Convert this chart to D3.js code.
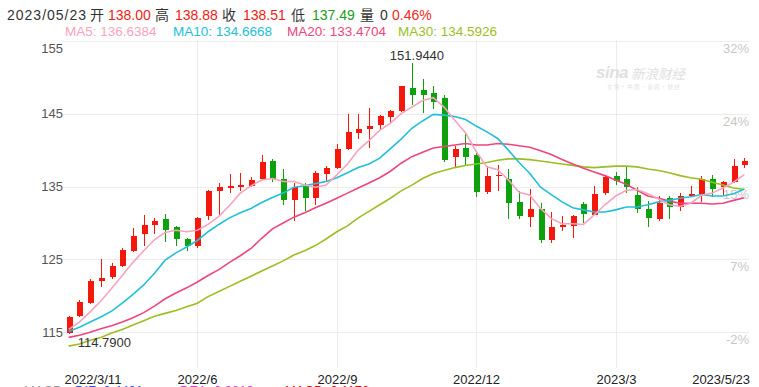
<!DOCTYPE html>
<html>
<head>
<meta charset="utf-8">
<script src="https://cdn.jsdelivr.net/npm/d3@7"></script>
<style>
  body { margin: 0; background: #fff; }
  svg { display: block; font-family: 'Liberation Sans', Arial, 'Noto Sans CJK SC', sans-serif; }
</style>
</head>
<body>
<div id="chart"></div>
<script>
// weekly candles, 2022/3/11 .. 2023/5/23
const openP = [114.9, 117.25, 119.06, 122.1, 122.6, 124.1, 126.2, 128.5, 129.7, 130.6,
  129.4, 127.8, 126.8, 130.9, 134.4, 134.95, 135.1, 135.1, 136.0, 138.5,
  136.1, 133.1, 135.05, 133.4, 136.7, 137.5, 140.1, 142.4, 142.85, 143.45,
  144.5, 145.3, 148.5, 148.25, 147.9, 147.2, 139.1, 140.25, 139.3, 134.2,
  136.45, 136.0, 132.9, 130.85, 131.9, 127.65, 129.45, 129.6, 132.6, 131.15,
  134.05, 136.45, 136.0, 133.9, 131.9, 130.55, 133.4, 132.15, 133.75, 133.95,
  136.1, 134.9, 135.65, 138.0];
const highP = [117.3, 119.4, 122.3, 125.0, 124.5, 126.6, 129.3, 131.1, 130.7, 131.2,
  129.6, 127.9, 130.8, 134.5, 135.5, 136.7, 136.9, 136.3, 139.3, 138.8,
  137.4, 135.45, 135.45, 137.2, 137.8, 140.8, 145.0, 145.0, 145.8, 144.85,
  145.5, 148.85, 151.944, 149.7, 148.8, 147.5, 140.55, 142.2, 139.85, 137.8,
  138.0, 137.4, 134.4, 134.6, 132.8, 131.55, 131.0, 131.1, 132.85, 135.05,
  136.6, 137.0, 137.7, 135.0, 132.95, 133.7, 133.7, 134.05, 135.05, 136.45,
  136.6, 135.8, 138.75, 138.88];
const lowP = [114.79, 117.1, 118.9, 121.2, 122.3, 123.9, 126.05, 126.8, 128.5, 127.4,
  126.9, 126.2, 126.6, 130.4, 130.9, 134.15, 134.4, 134.9, 135.9, 135.6,
  132.5, 130.3, 131.6, 132.5, 135.8, 137.4, 140.0, 141.5, 140.3, 142.9,
  143.7, 145.2, 146.2, 145.05, 145.6, 138.4, 137.7, 138.0, 133.6, 134.0,
  134.4, 130.5, 130.6, 129.4, 127.3, 127.2, 128.95, 128.0, 130.0, 131.1,
  133.8, 135.2, 134.05, 131.4, 129.5, 130.3, 130.55, 131.7, 133.6, 132.9,
  133.5, 133.85, 135.5, 137.49];
const closeP = [117.1, 119.2, 122.0, 122.5, 124.1, 126.3, 128.2, 129.7, 130.3, 129.1,
  127.75, 126.9, 130.7, 134.4, 134.9, 135.05, 135.2, 135.9, 138.4, 136.1,
  133.1, 134.9, 133.4, 136.8, 137.6, 140.1, 142.5, 142.85, 143.3, 144.7,
  145.3, 148.8, 147.6, 147.6, 146.65, 138.6, 140.1, 139.1, 134.3, 136.5,
  136.6, 132.8, 131.0, 131.9, 127.65, 129.4, 129.7, 130.95, 131.3, 133.95,
  136.35, 135.8, 135.0, 131.9, 130.75, 132.8, 132.15, 133.75, 133.95, 136.1,
  134.65, 135.65, 137.85, 138.51];

// moving averages
const ma5 = [115.4, 116.4, 117.8, 119.3, 121.0, 122.8, 124.6, 126.2, 127.7, 128.7,
  129.0, 128.8, 129.0, 129.8, 130.9, 132.4, 134.1, 135.1, 135.9, 136.1,
  135.7, 135.7, 135.2, 134.9, 135.2, 136.6, 138.1, 140.0, 141.3, 142.7,
  143.7, 145.0, 145.9, 146.8, 147.2, 145.9, 144.1, 142.4, 139.8, 137.7,
  137.3, 135.9, 134.2, 133.8, 132.0, 130.6, 129.9, 129.9, 129.8, 131.1,
  132.5, 133.7, 134.5, 134.6, 134.0, 133.3, 132.5, 132.3, 132.7, 133.8,
  134.1, 134.8, 135.6, 136.64];
const ma10 = [115.1, 115.7, 116.4, 117.1, 117.9, 119.0, 120.2, 121.5, 123.1, 124.9,
  125.9, 126.7, 127.6, 128.8, 129.8, 130.7, 131.4, 132.0, 132.8, 133.5,
  134.1, 134.9, 135.1, 135.4, 135.7, 136.2, 136.9, 137.6, 138.1, 138.9,
  140.2, 141.5, 143.0, 144.0, 144.9, 144.8, 144.6, 144.2, 143.3, 142.5,
  141.6, 140.0, 138.3, 136.8, 134.9, 133.9, 132.9, 132.1, 131.8, 131.5,
  131.5, 131.8, 132.2, 132.2, 132.5, 132.9, 133.1, 133.4, 133.6, 133.9,
  133.7, 133.7, 134.0, 134.67];
const ma20 = [114.3, 114.6, 115.0, 115.5, 115.9, 116.4, 117.0, 117.7, 118.6, 119.6,
  120.4, 121.1, 121.9, 122.8, 123.6, 124.6, 125.5, 126.5, 127.9, 129.2,
  130.0, 130.8, 131.4, 132.1, 132.7, 133.4, 134.1, 134.8, 135.5, 136.2,
  137.1, 138.2, 139.1, 139.7, 140.3, 140.5, 140.7, 140.9, 140.7, 140.7,
  140.9, 140.8, 140.6, 140.4, 139.9, 139.4, 138.7, 138.1, 137.5, 137.0,
  136.5, 135.9, 135.3, 134.5, 133.7, 133.4, 133.0, 132.7, 132.7, 132.7,
  132.6, 132.7, 133.1, 133.47];
const ma30 = [113.1, 113.4, 113.9, 114.3, 114.9, 115.4, 116.0, 116.6, 117.2, 117.6,
  118.0, 118.5, 119.0, 119.9, 120.6, 121.3, 122.0, 122.7, 123.4, 124.1,
  124.8, 125.6, 126.2, 126.9, 127.8, 128.8, 129.6, 130.7, 131.6, 132.5,
  133.4, 134.4, 135.2, 136.1, 136.8, 137.2, 137.6, 137.9, 138.1, 138.3,
  138.6, 138.8, 138.8, 138.7, 138.5, 138.3, 138.1, 137.9, 137.7, 137.6,
  137.7, 137.8, 137.8, 137.7, 137.4, 137.2, 136.9, 136.5, 136.2, 136.0,
  135.6, 135.2, 134.8, 134.59];

const priceTicks = [155, 145, 135, 125, 115];
const pctTicks = ['32%', '24%', '15%', '7%', '-2%'];
const monthTicks = [[12, '2022/6'], [25, '2022/9'], [38, '2022/12'], [51, '2023/3']];
const firstLabel = '2022/3/11';
const lastLabel = '2023/5/23';

const quoteDate = '2023/05/23';
const quote = [['开', '138.00'], ['高', '138.88'], ['收', '138.51'], ['低', '137.49'], ['量', '0']];
const quoteChg = '0.46%';
const maNames = ['MA5', 'MA10', 'MA20', 'MA30'];
const maLast = ['136.6384', '134.6668', '133.4704', '134.5926'];
const maxLabel = '151.9440';
const minLabel = '114.7900';

const draw = () => {
  const width = 759, height = 387;
  const n = closeP.length;
  const up = '#f4180c', down = '#0da20d';
  const maColors = ['#f8a3bd', '#22bfd9', '#ee457c', '#9bbf22'];

  const svg = d3.select('#chart')
    .append('svg')
    .attr('width', width)
    .attr('height', height);

  const x = d3.scaleBand()
    .domain(d3.range(n))
    .range([63.3, 749.7]);
  const y = d3.scaleLinear()
    .domain([115, 155])
    .range([332.3, 40.8]);
  const cx = i => x(i) + x.bandwidth() / 2;
  const px = i => Math.round(cx(i));

  //grid
  const grid = svg.append('g')
    .attr('stroke', '#ececec')
    .attr('shape-rendering', 'crispEdges');
  grid.selectAll('.h')
    .data(priceTicks)
    .join('line')
    .attr('x1', 63).attr('x2', 749)
    .attr('y1', d => Math.round(y(d)) + 0.5)
    .attr('y2', d => Math.round(y(d)) + 0.5);
  grid.selectAll('.v')
    .data(monthTicks)
    .join('line')
    .attr('x1', d => px(d[0]) + 0.5).attr('x2', d => px(d[0]) + 0.5)
    .attr('y1', 40).attr('y2', 368);

  //axis labels
  svg.append('g')
    .selectAll('text')
    .data(priceTicks)
    .join('text')
    .attr('x', 63)
    .attr('y', d => Math.max(y(d) + 4.5, 53))
    .attr('text-anchor', 'end')
    .attr('font-size', 13)
    .attr('fill', '#555')
    .text(d => d);
  svg.append('g')
    .selectAll('text')
    .data(pctTicks)
    .join('text')
    .attr('x', 749)
    .attr('y', (d, i) => y(priceTicks[i]) + 12)
    .attr('text-anchor', 'end')
    .attr('font-size', 13)
    .attr('fill', '#c8c8c8')
    .text(d => d);
  const xl = svg.append('g')
    .attr('font-size', 13)
    .attr('fill', '#222');
  xl.selectAll('text')
    .data(monthTicks)
    .join('text')
    .attr('x', d => px(d[0]) + 0.5)
    .attr('y', 383.5)
    .attr('text-anchor', 'middle')
    .text(d => d[1]);
  xl.append('text')
    .attr('x', 64.5).attr('y', 383.5)
    .text(firstLabel);
  xl.append('text')
    .attr('x', 750).attr('y', 383.5)
    .attr('text-anchor', 'end')
    .text(lastLabel);

  //watermark
  const wm = svg.append('g').attr('fill', '#e0e0e0');
  wm.append('text')
    .attr('x', 596).attr('y', 78)
    .attr('font-size', 17).attr('font-weight', 'bold').attr('font-style', 'italic')
    .attr('letter-spacing', -0.5)
    .text('sina');
  wm.append('text')
    .attr('x', 631).attr('y', 79)
    .attr('font-size', 13.5).attr('font-style', 'italic')
    .attr('font-family', 'Noto Sans CJK SC')
    .text('新浪财经');
  wm.append('text')
    .attr('x', 607).attr('y', 89)
    .attr('font-size', 5.5)
    .attr('font-family', 'Noto Sans CJK SC')
    .text('文 博 · 中 国 · 新 闻 · 财 经');

  //candles
  const data = d3.range(n).map(i => ({i, o: openP[i], h: highP[i], l: lowP[i], c: closeP[i]}));
  const candles = svg.append('g')
    .attr('shape-rendering', 'crispEdges')
    .selectAll('g')
    .data(data)
    .join('g')
    .attr('fill', d => d.c >= d.o ? up : down)
    .attr('stroke', d => d.c >= d.o ? up : down);
  candles.append('line')
    .attr('x1', d => px(d.i) + 0.5).attr('x2', d => px(d.i) + 0.5)
    .attr('y1', d => y(d.h)).attr('y2', d => y(d.l));
  candles.append('rect')
    .attr('stroke', 'none')
    .attr('x', d => px(d.i) - 2.5)
    .attr('width', 6)
    .attr('y', d => y(Math.max(d.o, d.c)))
    .attr('height', d => Math.max(1.5, Math.abs(y(d.o) - y(d.c))));

  //moving averages
  const line = d3.line()
    .x((d, i) => cx(i))
    .y(d => y(d));
  svg.append('g')
    .attr('fill', 'none')
    .attr('stroke-width', 1.6)
    .selectAll('path')
    .data([ma30, ma20, ma10, ma5])
    .join('path')
    .attr('stroke', (d, i) => maColors[3 - i])
    .attr('d', line);

  //extremes
  const iMax = d3.maxIndex(highP), iMin = d3.minIndex(lowP);
  svg.append('text')
    .attr('x', cx(iMax) - 22).attr('y', y(highP[iMax]) - 3)
    .attr('font-size', 13).attr('fill', '#333')
    .text(maxLabel);
  svg.append('text')
    .attr('x', cx(iMin) + 9).attr('y', y(lowP[iMin]) + 13.5)
    .attr('font-size', 13).attr('fill', '#333')
    .text(minLabel);

  //header
  const hx = [[90, 108], [155, 175], [222, 243], [291, 312], [360, 380]];
  const hd = svg.append('g').attr('font-size', 14);
  hd.append('text')
    .attr('x', 7).attr('y', 20)
    .attr('fill', '#333')
    .attr('letter-spacing', 1)
    .text(quoteDate);
  quote.forEach(([k, v], i) => {
    hd.append('text')
      .attr('x', hx[i][0]).attr('y', 20)
      .attr('fill', '#333')
      .attr('font-family', 'Noto Sans CJK SC')
      .text(k);
    hd.append('text')
      .attr('x', hx[i][1]).attr('y', 20)
      .attr('fill', k === '量' ? '#333' : k === '低' ? '#1b9e1b' : '#f01d12')
      .text(v);
  });
  hd.append('text')
    .attr('x', 392).attr('y', 20)
    .attr('fill', '#f02a18')
    .text(quoteChg);
  const lx = [65, 173, 287, 398];
  svg.append('g')
    .attr('font-size', 13.5)
    .selectAll('text')
    .data(maNames)
    .join('text')
    .attr('x', (d, i) => lx[i]).attr('y', 36)
    .attr('fill', (d, i) => maColors[i])
    .text((d, i) => `${d}: ${maLast[i]}`);

  //top of the next panel, cut off by the frame
  const cut = [['MACD', '#999', 24], ['DIF: 0.4401', '#3b4cf5', 75], ['DEA: 0.3813', '#e23ce2', 180], ['MACD: 0.1176', '#c8141a', 285]];
  svg.append('g')
    .attr('font-size', 13)
    .selectAll('text')
    .data(cut)
    .join('text')
    .attr('x', d => d[2]).attr('y', 395)
    .attr('fill', d => d[1])
    .text(d => d[0]);
}

draw();
</script>
</body>
</html>
